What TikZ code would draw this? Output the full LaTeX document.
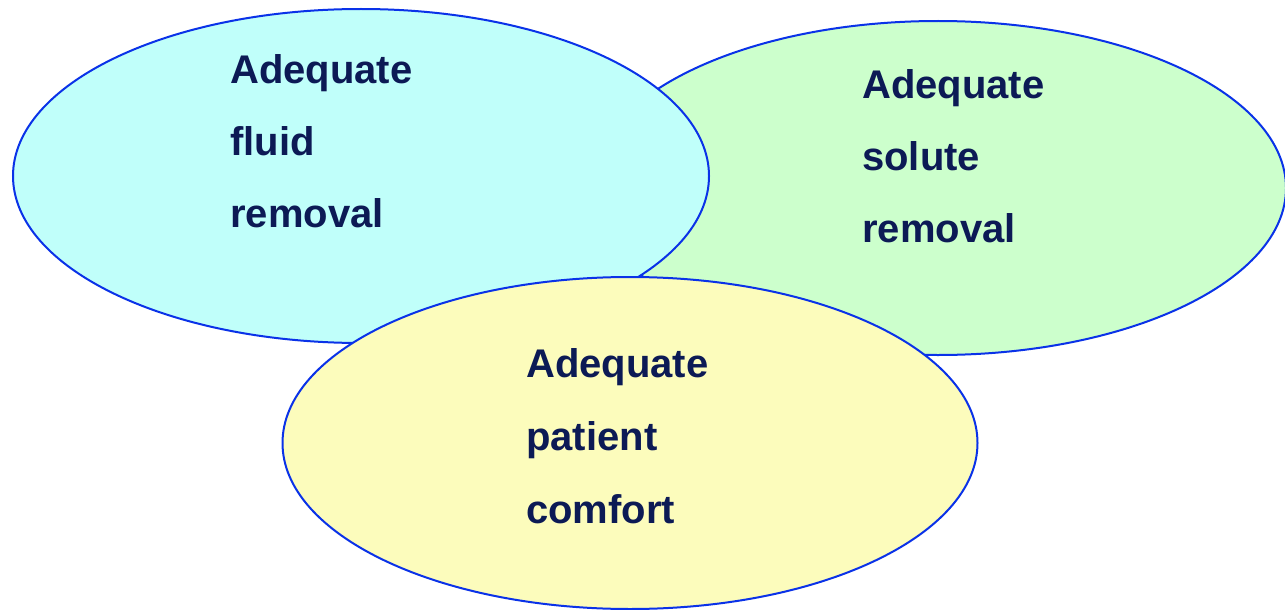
\documentclass[tikz,border=0pt]{standalone}
\usepackage{fontspec}
\setmainfont{Liberation Sans}
\usetikzlibrary{shapes.geometric}
\definecolor{rim}{RGB}{10,50,232}
\definecolor{cyanfill}{RGB}{192,255,250}
\definecolor{greenfill}{RGB}{204,255,204}
\definecolor{yellowfill}{RGB}{252,252,188}
\definecolor{navy}{RGB}{12,26,85}
\tikzset{
  blob/.style={ellipse, draw=rim, line width=2pt, inner sep=0pt,
    minimum width=696pt, minimum height=334pt},
  word/.style={anchor=base west, inner sep=0pt, text=navy,
    font=\fontsize{40}{48}\selectfont\bfseries}
}
\begin{document}
\begin{tikzpicture}[x=1pt,y=-1pt]
\useasboundingbox (0,0) rectangle (1285,610);
\node[blob, fill=greenfill] (green) at (938,188) {};
\node[blob, fill=cyanfill] (cyan) at (361,176) {};
\node[blob, fill=yellowfill, minimum height=332pt, minimum width=695pt] (yellow) at (630,443) {};
\node[word] (c1) at (230,83) {Adequate};
\node[word] (c2) at (230,155) {fluid};
\node[word] (c3) at (230,227) {removal};
\node[word] (g1) at (862,98) {Adequate};
\node[word] (g2) at (862,170) {solute};
\node[word] (g3) at (862,242) {removal};
\node[word] (y1) at (526,377) {Adequate};
\node[word] (y2) at (526,450) {patient};
\node[word] (y3) at (526,523) {comfort};
\end{tikzpicture}
\end{document}
